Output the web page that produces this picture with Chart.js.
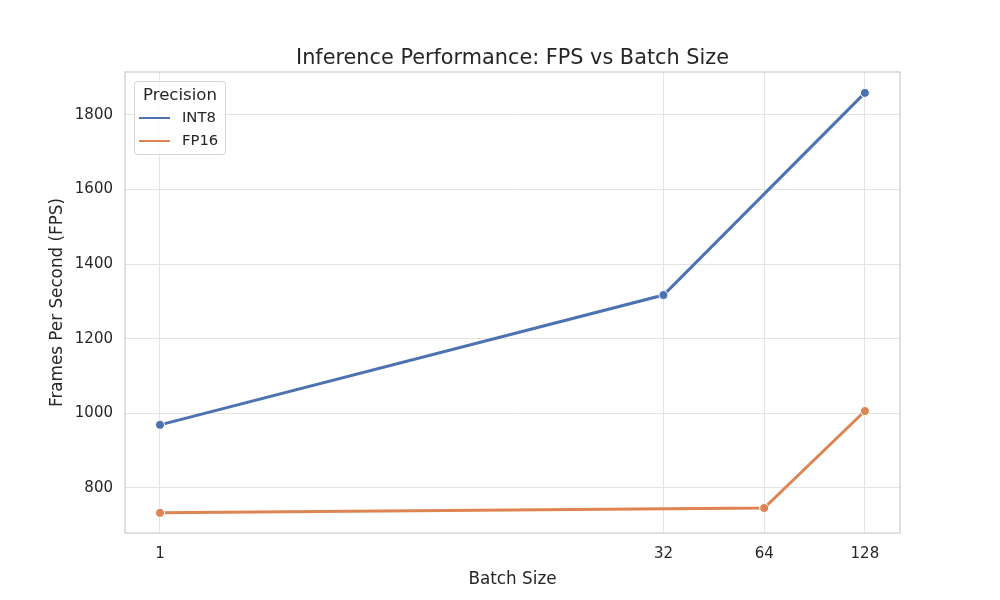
<!DOCTYPE html>
<html>
<head>
<meta charset="utf-8">
<script src="https://cdn.jsdelivr.net/npm/chart.js@4.4.1/dist/chart.umd.min.js"></script>
<style>
  html, body { margin: 0; padding: 0; background: #fff; }
  #wrap { width: 1000px; height: 600px; }
</style>
</head>
<body>
<div id="wrap"><canvas id="chart" width="1000" height="600"></canvas></div>
<script>
"use strict";
// data
const batchSizes = [1, 32, 64, 128];
const int8Batches = [1, 32, 128];
const int8Fps = [969, 1317, 1859];
const fp16Batches = [1, 64, 128];
const fp16Fps = [733, 746, 1006];
const yTicks = [800, 1000, 1200, 1400, 1600, 1800];

const FONT = "'DejaVu Sans', sans-serif";
const TEXT = "#262626";

function pairs(xs, ys) {
    return xs.map((x, i) => ({ x: x, y: ys[i] }));
}

// title, frame and inside legend drawn on top of the chart area
const decorations = {
    id: "decorations",
    beforeDatasetsDraw(chart) {
        const { ctx, chartArea: a } = chart;
        ctx.save();
        ctx.strokeStyle = "#cccccc";
        ctx.lineWidth = 1.25;
        ctx.strokeRect(a.left, a.top, a.right - a.left, a.bottom - a.top);
        ctx.restore();
    },
    afterDraw(chart) {
        const { ctx, chartArea: a } = chart;
        ctx.save();
        // title
        ctx.fillStyle = TEXT;
        ctx.font = "20.8px " + FONT;
        ctx.textAlign = "center";
        ctx.textBaseline = "middle";
        ctx.fillText("Inference Performance: FPS vs Batch Size", (a.left + a.right) / 2, 58.5);

        // legend box
        const x0 = 134, y0 = 81, w = 91, h = 73;
        ctx.fillStyle = "rgba(255,255,255,0.8)";
        ctx.strokeStyle = "#d6d6d6";
        ctx.lineWidth = 1;
        ctx.beginPath();
        ctx.roundRect(x0 + 0.5, y0 + 0.5, w, h, 3);
        ctx.fill();
        ctx.stroke();
        ctx.fillStyle = TEXT;
        ctx.font = "16.6px " + FONT;
        ctx.textAlign = "center";
        ctx.fillText("Precision", x0 + w / 2 + 0.5, 95.5);
        ctx.font = "14.8px " + FONT;
        ctx.textAlign = "left";
        chart.data.datasets.forEach((ds, i) => {
            const y = 118 + i * 23;
            ctx.strokeStyle = ds.borderColor;
            ctx.lineWidth = 2;
            ctx.beginPath();
            ctx.moveTo(139, y);
            ctx.lineTo(170, y);
            ctx.stroke();
            ctx.fillStyle = TEXT;
            ctx.fillText(ds.label, 182, y + 0.5);
        });
        ctx.restore();
    }
};

const config = {
    type: "line",
    data: {
        datasets: [
            {
                label: "INT8",
                data: pairs(int8Batches, int8Fps),
                borderColor: "#4c72b0",
                backgroundColor: "#4c72b0",
                borderWidth: 3,
                pointRadius: 4.5,
                pointBorderColor: "#ffffff",
                pointBorderWidth: 1,
                pointBackgroundColor: "#4c72b0"
            },
            {
                label: "FP16",
                data: pairs(fp16Batches, fp16Fps),
                borderColor: "#dd8452",
                backgroundColor: "#dd8452",
                borderWidth: 3,
                pointRadius: 4.5,
                pointBorderColor: "#ffffff",
                pointBorderWidth: 1,
                pointBackgroundColor: "#dd8452"
            }
        ]
    },
    options: {
        responsive: false,
        animation: false,
        layout: { padding: { top: 72, right: 100, left: 48, bottom: 10 } },
        plugins: {
            legend: { display: false },
            title: { display: false },
            tooltip: { enabled: false }
        },
        scales: {
            x: {
                type: "logarithmic",
                min: 0.786,
                max: 163,
                afterBuildTicks(axis) {
                    axis.ticks = batchSizes.map(v => ({ value: v }));
                },
                afterFit(axis) { axis.height = 57; },
                ticks: {
                    color: TEXT,
                    font: { family: FONT, size: 15 },
                    padding: 12,
                    maxRotation: 0,
                    callback: v => String(v)
                },
                grid: { color: "#e3e3e3", lineWidth: 1, drawTicks: false },
                border: { display: false },
                title: {
                    display: true,
                    text: "Batch Size",
                    color: TEXT,
                    font: { family: FONT, size: 16.8 },
                    padding: { top: 4, bottom: 0 }
                }
            },
            y: {
                type: "linear",
                min: 679,
                max: 1915,
                afterBuildTicks(axis) {
                    axis.ticks = yTicks.map(v => ({ value: v }));
                },
                afterFit(axis) { axis.width = 77; },
                ticks: {
                    color: TEXT,
                    font: { family: FONT, size: 15 },
                    padding: 12,
                    callback: v => String(v)
                },
                grid: { color: "#e3e3e3", lineWidth: 1, drawTicks: false },
                border: { display: false },
                title: {
                    display: true,
                    text: "Frames Per Second (FPS)",
                    color: TEXT,
                    font: { family: FONT, size: 16.8 },
                    padding: { top: 0, bottom: 0 }
                }
            }
        }
    },
    plugins: [decorations]
};

const canvas = document.getElementById("chart");
const chart = new Chart(canvas.getContext("2d"), config);
</script>
</body>
</html>
